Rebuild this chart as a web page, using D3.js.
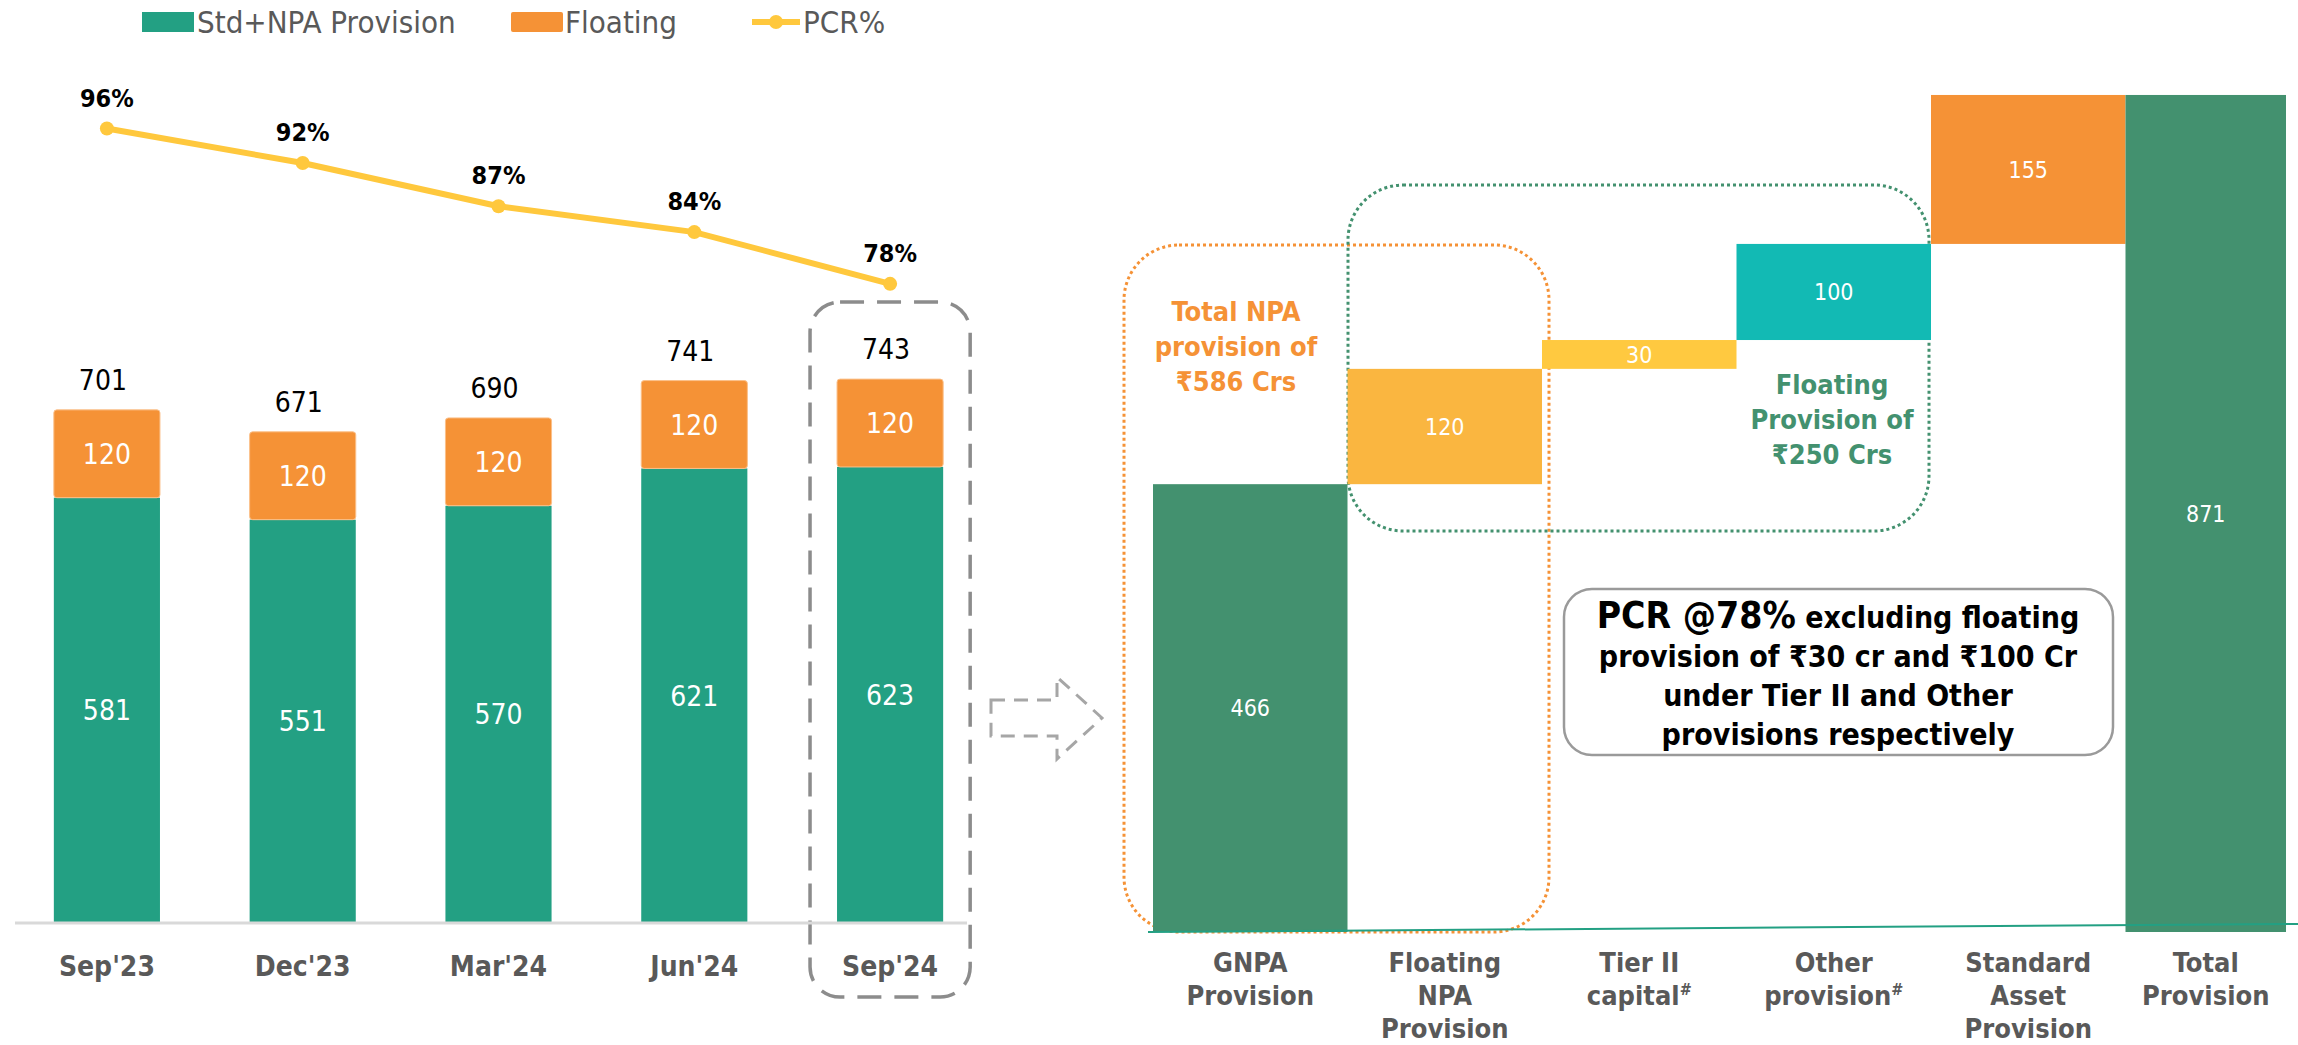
<!DOCTYPE html>
<html>

<head>
    <meta charset="utf-8">
    <title>Provisions and PCR</title>
    <script src="https://cdn.jsdelivr.net/npm/d3@7"></script>
    <style>
        body {
            margin: 0;
            background: #fff;
        }

        svg text {
            font-family: "DejaVu Sans Condensed", "DejaVu Sans", sans-serif;
            font-stretch: condensed;
        }
    </style>
</head>

<body>
    <script>
        // Left chart data
        const quarters = ["Sep'23", "Dec'23", "Mar'24", "Jun'24", "Sep'24"];
        const stdNpa = [581, 551, 570, 621, 623];
        const floating = [120, 120, 120, 120, 120];
        const totals = [701, 671, 690, 741, 743];
        const pcr = [96, 92, 87, 84, 78];

        // Waterfall data
        const wfLabels = [
            ["GNPA", "Provision"],
            ["Floating", "NPA", "Provision"],
            ["Tier II", "capital#"],
            ["Other", "provision#"],
            ["Standard", "Asset", "Provision"],
            ["Total", "Provision"]
        ];
        const wfValues = [466, 120, 30, 100, 155, 871];
        const wfIsTotal = [false, false, false, false, false, true];

        const green = '#23A083';
        const orange = '#F59236';
        const yellow = '#FFC83D';
        const darkGreen = '#43916F';
        const wfColors = [darkGreen, '#FAB640', '#FFC940', '#12BAB4', orange, darkGreen];
        const grey = '#595959';

        const width = 2298;
        const height = 1045;

        const svg = d3.select('body')
            .append('svg')
            .attr('width', width)
            .attr('height', height);

        // ---------- left chart ----------
        const xScale = d3.scaleBand()
            .domain(quarters)
            .range([9, 988])
            .paddingInner(0.458)
            .paddingOuter(0.229);

        const yScale = d3.scaleLinear()
            .domain([0, 1000])
            .range([923, 191]);

        const pcrScale = d3.scaleLinear()
            .domain([0, 100])
            .range([957, 94]);

        const rows = quarters.map((q, i) => ({ q, std: stdNpa[i], fl: floating[i], total: totals[i], pcr: pcr[i] }));

        // highlight box around the latest quarter
        svg.append('rect')
            .attr('x', xScale("Sep'24") - 27)
            .attr('y', 302)
            .attr('width', xScale.bandwidth() + 54)
            .attr('height', 695)
            .attr('rx', 30)
            .attr('fill', 'none')
            .attr('stroke', '#8c8c8c')
            .attr('stroke-width', 3.5)
            .attr('stroke-dasharray', '24 13');

        svg.selectAll('.std')
            .data(rows)
            .enter()
            .append('rect')
            .attr('class', 'std')
            .attr('x', d => xScale(d.q))
            .attr('y', d => yScale(d.std))
            .attr('width', xScale.bandwidth())
            .attr('height', d => yScale(0) - yScale(d.std))
            .attr('fill', green);

        svg.selectAll('.fl')
            .data(rows)
            .enter()
            .append('rect')
            .attr('class', 'fl')
            .attr('x', d => xScale(d.q))
            .attr('y', d => yScale(d.std + d.fl))
            .attr('width', xScale.bandwidth())
            .attr('height', d => yScale(d.std) - yScale(d.std + d.fl))
            .attr('rx', 3)
            .attr('fill', orange)
            .attr('stroke', '#fbc08a')
            .attr('stroke-width', 1);

        // axis line
        svg.append('line')
            .attr('x1', 15).attr('x2', 967)
            .attr('y1', yScale(0)).attr('y2', yScale(0))
            .attr('stroke', '#d9d9d9')
            .attr('stroke-width', 3);

        // in-bar labels
        svg.selectAll('.std-label')
            .data(rows)
            .enter()
            .append('text')
            .attr('x', d => xScale(d.q) + xScale.bandwidth() / 2)
            .attr('y', d => (yScale(0) + yScale(d.std)) / 2)
            .attr('dy', '0.36em')
            .attr('text-anchor', 'middle')
            .attr('fill', 'white')
            .style('font-size', '28px')
            .text(d => d.std);

        svg.selectAll('.fl-label')
            .data(rows)
            .enter()
            .append('text')
            .attr('x', d => xScale(d.q) + xScale.bandwidth() / 2)
            .attr('y', d => (yScale(d.std) + yScale(d.std + d.fl)) / 2)
            .attr('dy', '0.36em')
            .attr('text-anchor', 'middle')
            .attr('fill', 'white')
            .style('font-size', '28px')
            .text(d => d.fl);

        svg.selectAll('.total-label')
            .data(rows)
            .enter()
            .append('text')
            .attr('x', d => xScale(d.q) + xScale.bandwidth() / 2 - 4)
            .attr('y', d => yScale(d.total) - 20)
            .attr('text-anchor', 'middle')
            .attr('fill', 'black')
            .style('font-size', '28px')
            .text(d => d.total);

        // x labels
        svg.selectAll('.x-label')
            .data(rows)
            .enter()
            .append('text')
            .attr('x', d => xScale(d.q) + xScale.bandwidth() / 2)
            .attr('y', 966)
            .attr('dy', '0.36em')
            .attr('text-anchor', 'middle')
            .attr('fill', grey)
            .style('font-size', '28px')
            .style('font-weight', 'bold')
            .text(d => d.q);

        // PCR line
        const line = d3.line()
            .x(d => xScale(d.q) + xScale.bandwidth() / 2)
            .y(d => pcrScale(d.pcr));

        svg.append('path')
            .datum(rows)
            .attr('d', line)
            .attr('fill', 'none')
            .attr('stroke', yellow)
            .attr('stroke-width', 6);

        svg.selectAll('.pcr-dot')
            .data(rows)
            .enter()
            .append('circle')
            .attr('cx', d => xScale(d.q) + xScale.bandwidth() / 2)
            .attr('cy', d => pcrScale(d.pcr))
            .attr('r', 7)
            .attr('fill', yellow);

        svg.selectAll('.pcr-label')
            .data(rows)
            .enter()
            .append('text')
            .attr('x', d => xScale(d.q) + xScale.bandwidth() / 2)
            .attr('y', d => pcrScale(d.pcr) - 22)
            .attr('text-anchor', 'middle')
            .attr('fill', 'black')
            .style('font-size', '25px')
            .style('font-weight', 'bold')
            .text(d => d.pcr + '%');

        // legend
        const legend = svg.append('g').attr('transform', 'translate(0, 22)');
        legend.append('rect').attr('x', 142).attr('y', -10).attr('width', 52).attr('height', 20).attr('fill', green);
        legend.append('text').attr('x', 197).attr('dy', '0.36em').attr('fill', grey)
            .style('font-size', '31px').text('Std+NPA Provision');
        legend.append('rect').attr('x', 511).attr('y', -10).attr('width', 52).attr('height', 20).attr('rx', 2).attr('fill', orange);
        legend.append('text').attr('x', 565).attr('dy', '0.36em').attr('fill', grey)
            .style('font-size', '31px').text('Floating');
        legend.append('line').attr('x1', 752).attr('x2', 800).attr('y1', 0).attr('y2', 0)
            .attr('stroke', yellow).attr('stroke-width', 6);
        legend.append('circle').attr('cx', 776).attr('cy', 0).attr('r', 7).attr('fill', yellow);
        legend.append('text').attr('x', 803).attr('dy', '0.36em').attr('fill', grey)
            .style('font-size', '31px').text('PCR%');

        // dashed arrow between the charts
        svg.append('path')
            .attr('d', 'M991,700 L1057,700 L1057,677 L1102,718 L1057,759 L1057,736 L991,736 Z')
            .attr('fill', 'none')
            .attr('stroke', '#a6a6a6')
            .attr('stroke-width', 3)
            .attr('stroke-dasharray', '14 9');

        // ---------- waterfall ----------
        const wfCats = wfLabels.map(l => l.join(' '));
        const wxScale = d3.scaleBand()
            .domain(wfCats)
            .range([1153, 2320])
            .padding(0);

        const wyScale = d3.scaleLinear()
            .domain([0, 1000])
            .range([932, -29]);

        let running = 0;
        const steps = wfValues.map((v, i) => {
            const start = wfIsTotal[i] ? 0 : running;
            const end = wfIsTotal[i] ? v : running + v;
            if (!wfIsTotal[i]) running += v;
            const x = wxScale(wfCats[i]);
            const w = Math.min(wxScale.bandwidth(), 2286 - x);
            return { cat: wfCats[i], lines: wfLabels[i], v, start, end, x, w, color: wfColors[i] };
        });

        // dotted group boxes
        svg.append('rect')
            .attr('x', 1124).attr('y', 245)
            .attr('width', 425).attr('height', 687)
            .attr('rx', 55)
            .attr('fill', 'none')
            .attr('stroke', orange)
            .attr('stroke-width', 3)
            .attr('stroke-dasharray', '3 3');

        svg.append('rect')
            .attr('x', 1348).attr('y', 185)
            .attr('width', 581).attr('height', 346)
            .attr('rx', 55)
            .attr('fill', 'none')
            .attr('stroke', darkGreen)
            .attr('stroke-width', 3)
            .attr('stroke-dasharray', '3 3');

        svg.selectAll('.wf-bar')
            .data(steps)
            .enter()
            .append('rect')
            .attr('class', 'wf-bar')
            .attr('x', d => d.x)
            .attr('y', d => wyScale(d.end))
            .attr('width', d => d.w)
            .attr('height', d => wyScale(d.start) - wyScale(d.end))
            .attr('fill', d => d.color);

        svg.selectAll('.wf-label')
            .data(steps)
            .enter()
            .append('text')
            .attr('x', d => d.x + d.w / 2)
            .attr('y', d => (wyScale(d.start) + wyScale(d.end)) / 2)
            .attr('dy', '0.36em')
            .attr('text-anchor', 'middle')
            .attr('fill', 'white')
            .style('font-size', '23px')
            .text(d => d.v);

        // baseline
        svg.append('line')
            .attr('x1', 1148).attr('x2', 2298)
            .attr('y1', wyScale(0)).attr('y2', wyScale(0) - 8)
            .attr('stroke', green)
            .attr('stroke-width', 2);

        // category labels
        const catLabels = svg.selectAll('.wf-cat')
            .data(steps)
            .enter()
            .append('text')
            .attr('text-anchor', 'middle')
            .attr('fill', grey)
            .style('font-size', '27px')
            .style('font-weight', 'bold');

        catLabels.each(function (d) {
            const t = d3.select(this);
            d.lines.forEach((ln, j) => {
                const span = t.append('tspan')
                    .attr('x', d.x + d.w / 2)
                    .attr('y', 972 + j * 33);
                if (ln.endsWith('#')) {
                    span.text(ln.slice(0, -1));
                    t.append('tspan')
                        .attr('dy', -10)
                        .style('font-size', '16px')
                        .text('#');
                } else {
                    span.text(ln);
                }
            });
        });

        // annotations
        const annot = (lines, x, y0, color) => {
            const t = svg.append('text')
                .attr('text-anchor', 'middle')
                .attr('fill', color)
                .style('font-size', '27px')
                .style('font-weight', 'bold');
            lines.forEach((ln, j) => {
                t.append('tspan').attr('x', x).attr('y', y0 + j * 35).attr('dy', '0.36em').text(ln);
            });
        };
        annot(['Total NPA', 'provision of', '₹586 Crs'], 1236, 311, orange);
        annot(['Floating', 'Provision of', '₹250 Crs'], 1832, 384, darkGreen);

        // callout box
        svg.append('rect')
            .attr('x', 1564).attr('y', 589)
            .attr('width', 549).attr('height', 166)
            .attr('rx', 28)
            .attr('fill', 'white')
            .attr('stroke', '#9a9a9a')
            .attr('stroke-width', 2.5);

        const callout = svg.append('text')
            .attr('text-anchor', 'middle')
            .attr('fill', 'black')
            .style('font-weight', 'bold')
            .style('font-size', '30px');
        const l1 = callout.append('tspan').attr('x', 1838).attr('y', 617).attr('dy', '0.36em');
        l1.append('tspan').style('font-size', '37px').text('PCR @78%');
        l1.append('tspan').text(' excluding floating');
        ['provision of ₹30 cr and ₹100 Cr', 'under Tier II and Other', 'provisions respectively']
            .forEach((ln, j) => {
                callout.append('tspan').attr('x', 1838).attr('y', 656 + j * 39).attr('dy', '0.36em').text(ln);
            });
    </script>
</body>

</html>
